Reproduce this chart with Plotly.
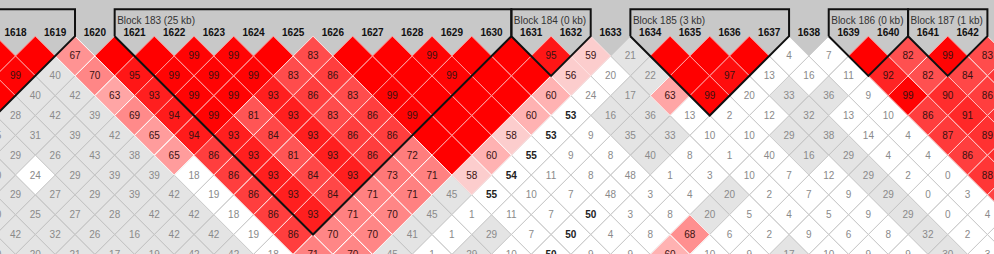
import plotly.graph_objects as go

# ---------------- data ----------------
marker_ids = [1612, 1613, 1614, 1615, 1616, 1617, 1618, 1619, 1620, 1621, 1622, 1623,
              1624, 1625, 1626, 1627, 1628, 1629, 1630, 1631, 1632, 1633, 1634, 1635,
              1636, 1637, 1638, 1639, 1640, 1641, 1642, 1643, 1644, 1645, 1646, 1647, 1648]

# LD rows: row k holds pairs (i, i+k). Tokens: R = D'=1 strong LD (no number),
# rNN = red shade, pNN = light pink, gNN = grey cell, wNN = white cell, bNN = white cell bold text
ld_row_01 = "R R r67 R R r99 r99 R r83 R R r99 R R r95 p59 g21 R R R w4 w7 R r82 r99 r83".split()
ld_row_02 = "r99 g40 r70 r95 r99 r99 r99 r83 r86 R R r99 R R p56 w20 g22 R r97 w13 w16 w11 r92 r82 r84 r88".split()
ld_row_03 = "R g40 g42 r63 r93 r99 r99 r93 r86 r83 r99 R R R r60 w24 g17 r63 r99 w20 g33 g36 w9 r99 r90 r86".split()
ld_row_04 = "g28 g42 g39 r69 r94 r99 r81 r93 r83 r86 r99 R R r60 b53 g16 g36 w13 w2 w12 g32 w13 w10 r86 r91 r88".split()
ld_row_05 = "g35 g31 g39 g42 r65 r94 r93 r84 r93 r86 r86 R R p58 b53 w9 g35 g33 w10 w10 g29 g38 w14 w4 r87 r89".split()
ld_row_06 = "g29 g26 g43 g38 r65 r86 r93 r81 r93 r86 r72 R r60 b55 w9 w8 g40 w8 w1 w40 g16 g29 w4 w4 r86 r90".split()
ld_row_07 = "g30 w24 g29 g39 g39 w18 r86 r93 r84 r93 r73 r71 p58 b54 w11 w8 w48 w1 w3 w10 w7 w12 g29 w2 w0 r88".split()
ld_row_08 = "g29 g27 g29 g39 g42 w19 r86 r93 r84 r71 r71 g45 b55 w10 w7 w48 w3 w4 g20 w2 w7 w9 g29 w0 w3 r85".split()
ld_row_09 = "g30 g25 g27 g28 g42 g42 w18 r86 r93 r71 r70 g45 w1 w11 w7 b50 w3 w8 g20 w5 w4 w5 w9 g29 w0 w4".split()
ld_row_10 = "g42 g32 g26 g16 g42 g42 w19 r86 r70 r70 g41 w1 g29 w7 b50 w4 w8 r68 w6 w2 w9 w6 w8 g32 w2 w3".split()
ld_row_11 = "g30 g20 g21 g17 g19 g42 g42 w18 r71 r70 g45 w1 g29 w10 b50 w9 w9 r60 w10 w9 g17 w10 w9 w9 g30 w3".split()

block_names = ["", "Block 183 (25 kb)", "Block 184 (0 kb)", "Block 185 (3 kb)",
               "Block 186 (0 kb)", "Block 187 (1 kb)"]
block_first = [1616, 1621, 1631, 1634, 1639, 1641]
block_last = [1619, 1630, 1632, 1637, 1640, 1642]

# ---------------- geometry (pixel mapping) ----------------
W, H = 994, 254
ANCHOR = 1618          # marker drawn at X0 pixel
PX_M = 39.67           # pixels per marker
X0 = 15.5
PX_R = 19.835          # pixels per LD row
Y0 = 36.165            # pixel of the top of the first row
x_range = [(0 - X0) / PX_M, (W - X0) / PX_M]
y_range = [(H - Y0) / PX_R, (0 - Y0) / PX_R]

BG = "#c8c8c8"
FONT = "Liberation Sans, Arial, sans-serif"


def m_idx(mid):
    return mid - ANCHOR


def cell_colors(tok):
    cls = tok[0]
    if cls == "R":
        return (255, 0, 0), (255, 150, 150)
    d = int(tok[1:]) / 100.0
    if cls == "r":
        g = max(0, min(255, round(446 * (1 - d))))
        lg = min(255, g + 150)
        return (255, g, g), (255, lg, lg)
    if cls == "p":
        return (252, 205, 205), (255, 225, 225)
    if cls == "g":
        return (228, 228, 228), (198, 198, 198)
    return (255, 255, 255), (204, 204, 204)


rows = [ld_row_01, ld_row_02, ld_row_03, ld_row_04, ld_row_05, ld_row_06,
        ld_row_07, ld_row_08, ld_row_09, ld_row_10, ld_row_11]

groups = {}
texts = {"light": ([], [], []), "dark": ([], [], []), "bold": ([], [], [])}
for k, row in enumerate(rows, start=1):
    i0 = -((k + 1) // 2)
    for t, tok in enumerate(row):
        i = i0 + t
        j = i + k
        xc = (i + j) / 2.0
        fill, line = cell_colors(tok)
        key = (fill, line, tok[0] in "Rrp")
        gx, gy = groups.setdefault(key, ([], []))
        gx += [xc, xc + 0.5, xc, xc - 0.5, xc, None]
        gy += [k - 1, k, k + 1, k, k - 1, None]
        if tok != "R":
            style = "dark" if tok[0] in "rp" else ("bold" if tok[0] == "b" else "light")
            tx, ty, tt = texts[style]
            tx.append(xc)
            ty.append(k + 0.05)
            tt.append(tok[1:])

fig = go.Figure()

# grey/white cells first, then red ones on top
for key in sorted(groups.keys(), key=lambda q: q[2]):
    fill, line, _ = key
    gx, gy = groups[key]
    fig.add_trace(go.Scatter(
        x=gx, y=gy, mode="lines", fill="toself",
        fillcolor="rgb(%d,%d,%d)" % fill,
        line=dict(color="rgb(%d,%d,%d)" % line, width=1),
        hoverinfo="skip", showlegend=False))

# block outlines
TOP_LINE = (9.3 - Y0) / PX_R
for name, a_id, b_id in zip(block_names, block_first, block_last):
    a, b = m_idx(a_id), m_idx(b_id)
    bx = [a - 0.5, a - 0.5, b + 0.5, b + 0.5, (a + b) / 2.0, a - 0.5]
    by = [0, TOP_LINE, TOP_LINE, 0, b - a + 1, 0]
    fig.add_trace(go.Scatter(x=bx, y=by, mode="lines",
                             line=dict(color="#111111", width=2),
                             hoverinfo="skip", showlegend=False))

# cell numbers
style_font = {
    "light": dict(color="#8a8a8a", size=10, family=FONT),
    "dark": dict(color="#3a1212", size=10, family=FONT),
    "bold": dict(color="#222222", size=10, family=FONT, weight="bold"),
}
for style, (tx, ty, tt) in texts.items():
    fig.add_trace(go.Scatter(x=tx, y=ty, text=tt, mode="text",
                             textposition="middle center",
                             textfont=style_font[style],
                             hoverinfo="skip", showlegend=False))

# marker labels
fig.add_trace(go.Scatter(
    x=[m_idx(m) for m in marker_ids],
    y=[(33.5 - Y0) / PX_R] * len(marker_ids),
    text=[str(m) for m in marker_ids], mode="text",
    textposition="middle center",
    textfont=dict(color="#111111", size=10, family=FONT, weight="bold"),
    hoverinfo="skip", showlegend=False))

# block labels
lbl_x, lbl_t = [], []
for name, a_id in zip(block_names, block_first):
    if name:
        lbl_x.append(m_idx(a_id) - 0.5 + 2.5 / PX_M)
        lbl_t.append(name)
fig.add_trace(go.Scatter(
    x=lbl_x, y=[(21.5 - Y0) / PX_R] * len(lbl_x), text=lbl_t, mode="text",
    textposition="middle right",
    textfont=dict(color="#333333", size=10, family=FONT),
    hoverinfo="skip", showlegend=False))

fig.update_layout(
    width=W, height=H, margin=dict(l=0, r=0, t=0, b=0),
    paper_bgcolor=BG, plot_bgcolor=BG, showlegend=False,
    xaxis=dict(range=x_range, visible=False, fixedrange=True),
    yaxis=dict(range=y_range, visible=False, fixedrange=True),
)

fig.write_html("out.html")
